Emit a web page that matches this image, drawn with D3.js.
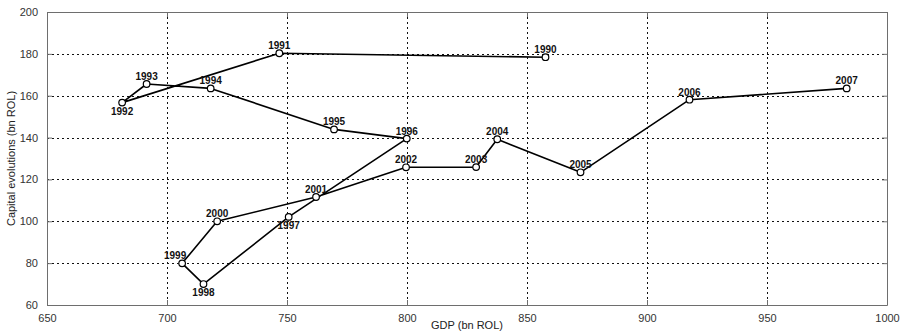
<!DOCTYPE html>
<html>
<head>
<meta charset="utf-8">
<script src="https://cdn.jsdelivr.net/npm/d3@7/dist/d3.min.js"></script>
<style>
  body { margin: 0; background: #fff; }
  svg { display: block; }
</style>
</head>
<body>
<svg id="chart" width="903" height="334"></svg>
<script>
const years = [1990,1991,1992,1993,1994,1995,1996,1997,1998,1999,2000,2001,2002,2003,2004,2005,2006,2007];
const gdp = [857.7,746.8,681.3,691.5,718.2,769.6,799.9,750.7,715.2,706.3,720.9,762.1,799.6,828.8,837.6,872.3,917.7,983.2];
const capital = [178.4,180.3,156.7,165.6,163.5,143.9,139.5,102.1,70.0,79.9,100.0,111.6,125.8,125.9,139.2,123.4,158.1,163.5];
const labelSide = ["above","above","below","above","above","above","above","below","below","aboveleft","above","above","above","above","above","above","above","above"];
const xTicks = [650,700,750,800,850,900,950,1000];
const yTicks = [60,80,100,120,140,160,180,200];
const xTitle = "GDP (bn ROL)";
const yTitle = "Capital evolutions (bn ROL)";

const W = 903, H = 334;
const m = {left: 47, top: 12, right: 16, bottom: 29};
const svg = d3.select("#chart");
const x = d3.scaleLinear().domain([650,1000]).range([m.left, W - m.right]);
const y = d3.scaleLinear().domain([60,200]).range([H - m.bottom, m.top]);

const pts = years.map((yr,i) => ({yr, gx: gdp[i], cy: capital[i], side: labelSide[i]}));

// grid
const grid = svg.append("g").attr("stroke", "#111").attr("stroke-width", 1).attr("stroke-dasharray", "2,3").attr("shape-rendering", "crispEdges");
grid.selectAll("line.v").data(xTicks.slice(1,-1)).join("line")
  .attr("x1", d => Math.round(x(d)) + 0.5).attr("x2", d => Math.round(x(d)) + 0.5)
  .attr("y1", y(200)).attr("y2", y(60));
grid.selectAll("line.h").data(yTicks.slice(1,-1)).join("line")
  .attr("y1", d => Math.round(y(d)) + 0.5).attr("y2", d => Math.round(y(d)) + 0.5)
  .attr("x1", x(650)).attr("x2", x(1000));

// axes
const axisColor = "#6e6e6e";
const fontFam = "'Liberation Sans', Arial, sans-serif";
function styleAxis(g) {
  g.select(".domain").attr("stroke", axisColor);
  g.selectAll(".tick line").attr("stroke", axisColor);
  g.selectAll(".tick text").attr("fill", "#333").attr("font-family", fontFam).attr("font-size", 11);
}
const xAxis = d3.axisBottom(x).tickValues(xTicks).tickSize(-5).tickSizeOuter(0).tickPadding(9).tickFormat(d3.format("d"));
svg.append("g").attr("transform", `translate(0,${y(60)})`).call(xAxis).call(styleAxis);
const xAxisTop = d3.axisTop(x).tickValues(xTicks).tickSize(-5).tickSizeOuter(0).tickFormat("");
svg.append("g").attr("transform", `translate(0,${y(200)})`).call(xAxisTop).call(styleAxis);
const yAxis = d3.axisLeft(y).tickValues(yTicks).tickSize(-5).tickSizeOuter(0).tickPadding(9).tickFormat(d3.format("d"));
svg.append("g").attr("transform", `translate(${x(650)},0)`).call(yAxis).call(styleAxis);
const yAxisR = d3.axisRight(y).tickValues(yTicks).tickSize(-5).tickSizeOuter(0).tickFormat("");
svg.append("g").attr("transform", `translate(${x(1000)},0)`).call(yAxisR).call(styleAxis);

// titles
svg.append("text").attr("x", (x(650)+x(1000))/2).attr("y", H - 5)
  .attr("text-anchor", "middle").attr("font-family", fontFam).attr("font-size", 11).attr("fill", "#222").text(xTitle);
svg.append("text").attr("transform", `translate(15,${(y(60)+y(200))/2}) rotate(-90)`)
  .attr("text-anchor", "middle").attr("font-family", fontFam).attr("font-size", 11).attr("fill", "#222").text(yTitle);

// line
const line = d3.line().x(d => x(d.gx)).y(d => y(d.cy));
svg.append("path").datum(pts).attr("d", line).attr("fill", "none")
  .attr("stroke", "#000").attr("stroke-width", 1.6).attr("stroke-linejoin", "round");

// markers
svg.append("g").selectAll("circle").data(pts).join("circle")
  .attr("cx", d => x(d.gx)).attr("cy", d => y(d.cy)).attr("r", 3.3)
  .attr("fill", "#fff").attr("stroke", "#000").attr("stroke-width", 1.2);

// labels
svg.append("g").selectAll("text").data(pts).join("text")
  .attr("x", d => x(d.gx) + (d.side === "aboveleft" ? -7 : 0))
  .attr("y", d => y(d.cy) + (d.side === "below" ? 12 : -4))
  .attr("text-anchor", "middle")
  .attr("font-family", fontFam).attr("font-size", 10).attr("font-weight", "bold").attr("fill", "#111")
  .text(d => d.yr);
</script>
</body>
</html>
